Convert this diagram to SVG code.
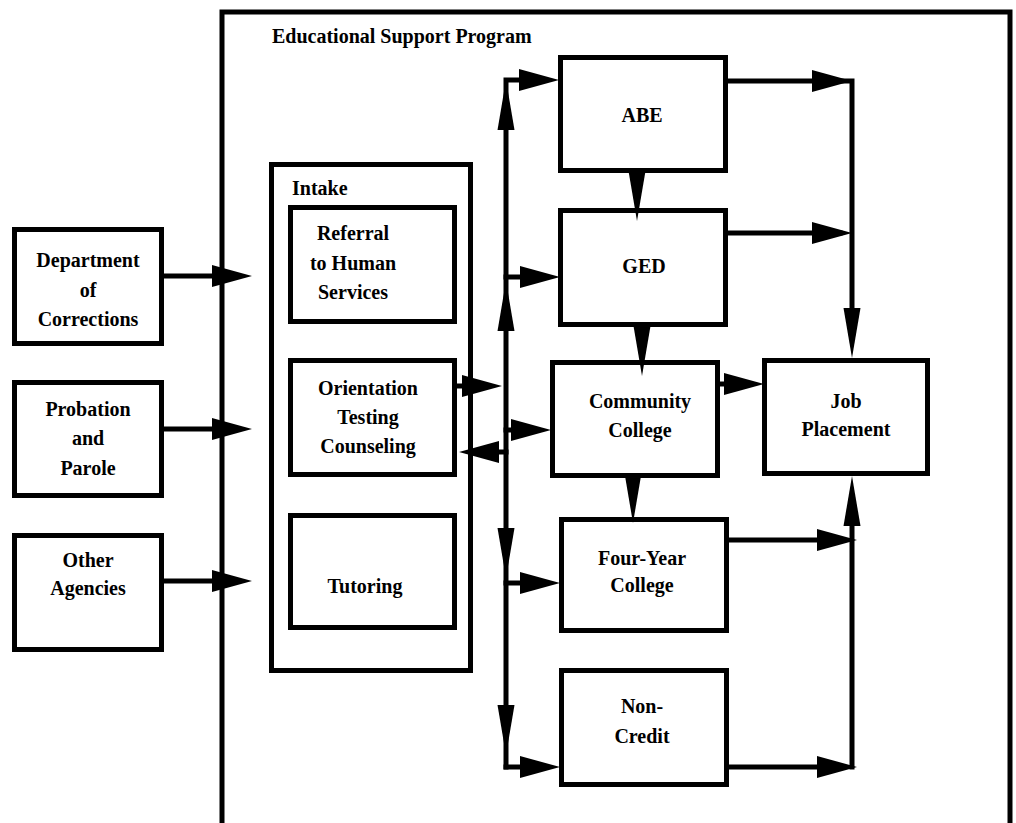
<svg xmlns="http://www.w3.org/2000/svg" xmlns:xlink="http://www.w3.org/1999/xlink" width="1016" height="823" viewBox="0 0 1016 823">
<style>
.box{fill:none;stroke:#000;stroke-width:5}
.ln{fill:none;stroke:#000;stroke-width:5;stroke-linecap:square}
.t{font-family:"Liberation Serif","Times New Roman",serif;font-weight:bold;font-size:20px;fill:#000;text-anchor:middle}
.tl{text-anchor:start}
.ah{fill:#000}
</style>
<defs>
<path id="ah" d="M0,0 L-40,-11 L-40,11 Z"/>
<path id="av" d="M0,0 L-8.5,-50 L8.5,-50 Z"/>
</defs>
<rect width="1016" height="823" fill="#fff"/>

<g id="program">
<rect class="box" x="222" y="12" width="788" height="840"/>
<text class="t tl" x="272" y="43">Educational  Support Program</text>
</g>

<g id="dept">
<rect class="box" x="14.5" y="229.5" width="147" height="114"/>
<text class="t" x="88" y="267">Department</text>
<text class="t" x="88" y="297">of</text>
<text class="t" x="88" y="326">Corrections</text>
</g>
<g id="probation">
<rect class="box" x="14.5" y="382.5" width="147" height="113"/>
<text class="t" x="88" y="416">Probation</text>
<text class="t" x="88" y="445">and</text>
<text class="t" x="88" y="475">Parole</text>
</g>
<g id="other">
<rect class="box" x="14.5" y="535.5" width="147" height="114"/>
<text class="t" x="88" y="567">Other</text>
<text class="t" x="88" y="595">Agencies</text>
</g>

<g id="intake">
<rect class="box" x="271.5" y="164.5" width="199" height="506"/>
<text class="t tl" x="292" y="195">Intake</text>
</g>
<g id="referral">
<rect class="box" x="290.5" y="207.5" width="164" height="114"/>
<text class="t" x="353" y="240">Referral</text>
<text class="t" x="353" y="270">to Human</text>
<text class="t" x="353" y="299">Services</text>
</g>
<g id="orientation">
<rect class="box" x="290.5" y="360.5" width="164" height="114"/>
<text class="t" x="368" y="395">Orientation</text>
<text class="t" x="368" y="424">Testing</text>
<text class="t" x="368" y="453">Counseling</text>
</g>
<g id="tutoring">
<rect class="box" x="290.5" y="515.5" width="164" height="112"/>
<text class="t" x="365" y="593">Tutoring</text>
</g>

<g id="abe">
<rect class="box" x="560.5" y="57.5" width="165" height="113"/>
<text class="t" x="642" y="122">ABE</text>
</g>
<g id="ged">
<rect class="box" x="560.5" y="210.5" width="165" height="114"/>
<text class="t" x="644" y="273">GED</text>
</g>
<g id="community">
<rect class="box" x="552.5" y="362.5" width="165" height="113"/>
<text class="t" x="640" y="408">Community</text>
<text class="t" x="640" y="437">College</text>
</g>
<g id="fouryear">
<rect class="box" x="561.5" y="519.5" width="165" height="111"/>
<text class="t" x="642" y="565">Four-Year</text>
<text class="t" x="642" y="592">College</text>
</g>
<g id="noncredit">
<rect class="box" x="561.5" y="670.5" width="165" height="114"/>
<text class="t" x="642" y="713">Non-</text>
<text class="t" x="642" y="743">Credit</text>
</g>
<g id="job">
<rect class="box" x="764.5" y="360.5" width="163" height="113"/>
<text class="t" x="846" y="408">Job</text>
<text class="t" x="846" y="436">Placement</text>
</g>

<g id="connectors">
<!-- inputs to intake -->
<path class="ln" d="M164,276 H236"/>
<use href="#ah" class="ah" transform="translate(252,276)"/>
<path class="ln" d="M164,429 H236"/>
<use href="#ah" class="ah" transform="translate(252,429)"/>
<path class="ln" d="M164,581 H236"/>
<use href="#ah" class="ah" transform="translate(252,581)"/>

<!-- left bus -->
<path class="ln" d="M506,767 V80 H540"/>
<use href="#av" class="ah" transform="translate(506,80) rotate(180)"/>
<use href="#ah" class="ah" transform="translate(559,80)"/>
<path class="ln" d="M506,277 H540"/>
<use href="#ah" class="ah" transform="translate(560,277)"/>
<use href="#av" class="ah" transform="translate(506,281) rotate(180)"/>
<path class="ln" d="M457,386 H485"/>
<use href="#ah" class="ah" transform="translate(502,386)"/>
<path class="ln" d="M506,430 H535"/>
<use href="#ah" class="ah" transform="translate(551,430)"/>
<path class="ln" d="M506,452 H475"/>
<use href="#ah" class="ah" transform="translate(459,452) rotate(180)"/>
<use href="#av" class="ah" transform="translate(506,578)"/>
<path class="ln" d="M506,583 H540"/>
<use href="#ah" class="ah" transform="translate(560,583)"/>
<use href="#av" class="ah" transform="translate(506,755)"/>
<path class="ln" d="M506,767 H540"/>
<use href="#ah" class="ah" transform="translate(560,767)"/>

<!-- between program boxes -->
<use href="#av" class="ah" transform="translate(637,221)"/>
<use href="#av" class="ah" transform="translate(642,376)"/>
<use href="#av" class="ah" transform="translate(633,523)"/>

<!-- right side -->
<path class="ln" d="M728,81 H852 V330"/>
<use href="#ah" class="ah" transform="translate(852,81)"/>
<use href="#av" class="ah" transform="translate(852,358)"/>
<path class="ln" d="M728,233 H840"/>
<use href="#ah" class="ah" transform="translate(852,233)"/>
<path class="ln" d="M720,384 H745"/>
<use href="#ah" class="ah" transform="translate(764,384)"/>
<path class="ln" d="M852,767 V500"/>
<use href="#av" class="ah" transform="translate(852,476) rotate(180)"/>
<path class="ln" d="M728,540 H840"/>
<use href="#ah" class="ah" transform="translate(857,540)"/>
<path class="ln" d="M728,767 H840"/>
<use href="#ah" class="ah" transform="translate(857,767)"/>
</g>
</svg>
